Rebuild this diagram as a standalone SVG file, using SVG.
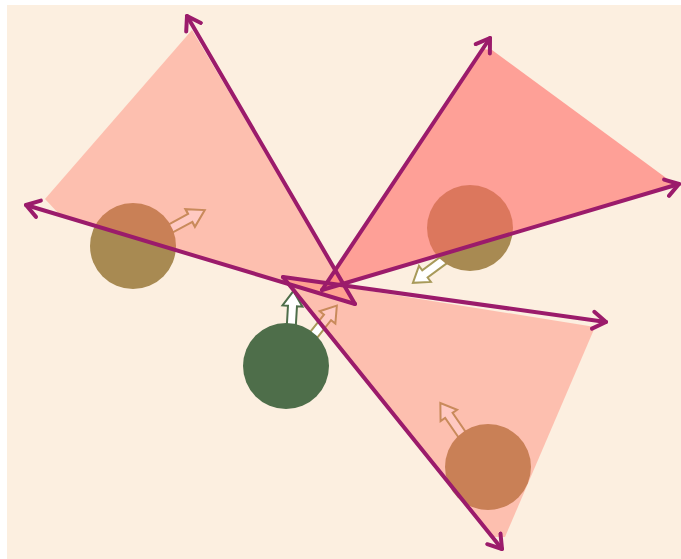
<svg xmlns="http://www.w3.org/2000/svg" width="681" height="559" viewBox="0 0 681 559">
<style>
.fov{fill:#ff705e;fill-opacity:0.38}
.fov2{fill:#ff6b66;fill-opacity:0.6}
.ray{stroke:#9b1b6b;stroke-width:4;stroke-linecap:round;fill:none;marker-end:url(#chev)}
.bot{fill:#a88a52}
.mv{fill:#ffffff;stroke:#a89a5a;stroke-width:2;stroke-linejoin:miter}
</style>
<defs>
<marker id="chev" markerUnits="userSpaceOnUse" markerWidth="30" markerHeight="30" refX="15" refY="15" orient="auto" viewBox="0 0 30 30">
<path d="M2,6.5 L15,15 L2,23.5" fill="none" stroke="#9b1b6b" stroke-width="4" stroke-linecap="round" stroke-linejoin="round"/>
</marker>
<path id="blk" d="M0,-4.5 L25,-4.5 L25,-10 L40,0 L25,10 L25,4.5 L0,4.5 Z"/>
</defs>
<rect x="0" y="0" width="681" height="559" fill="#ffffff"/>
<rect x="7" y="5" width="674" height="554" fill="#fcefe0"/>
<g id="moves">
<use href="#blk" class="mv" transform="translate(166,231) rotate(-28.4) scale(1.1,1)"/>
<use href="#blk" class="mv" transform="translate(445,259) rotate(143.4)"/>
<use href="#blk" class="mv" transform="translate(463,436) rotate(-124.5)"/>
<use href="#blk" class="mv" style="stroke:#4e6e4a" transform="translate(291,331) rotate(-86.6)"/>
<use href="#blk" class="mv" transform="translate(312,337) rotate(-51.6)"/>
</g>
<g id="robot1"><circle class="bot" cx="133" cy="246" r="43"/></g>
<g id="robot2"><circle class="bot" cx="470" cy="228" r="43"/></g>
<g id="robot3"><circle class="bot" cx="488" cy="467" r="43"/></g>
<g id="robot4"><circle cx="286" cy="366" r="43" fill="#4e6e4a"/></g>
<g id="cone1"><polygon class="fov" points="355,304 192,30 45,199 60,215"/></g>
<g id="cone2"><polygon class="fov2" points="322,290 483,49 492,50 673,183 670,187"/></g>
<g id="cone3"><polygon class="fov" points="283,277 595,327 505,537 492,537"/></g>
<g id="connectors">
<line class="ray" x1="355" y1="304" x2="187" y2="16"/>
<line class="ray" x1="355" y1="304" x2="26" y2="205"/>
<line class="ray" x1="322" y1="290" x2="490" y2="38"/>
<line class="ray" x1="322" y1="290" x2="679" y2="184"/>
<line class="ray" x1="283" y1="277" x2="606" y2="322"/>
<line class="ray" x1="283" y1="277" x2="502" y2="549"/>
</g>
</svg>
